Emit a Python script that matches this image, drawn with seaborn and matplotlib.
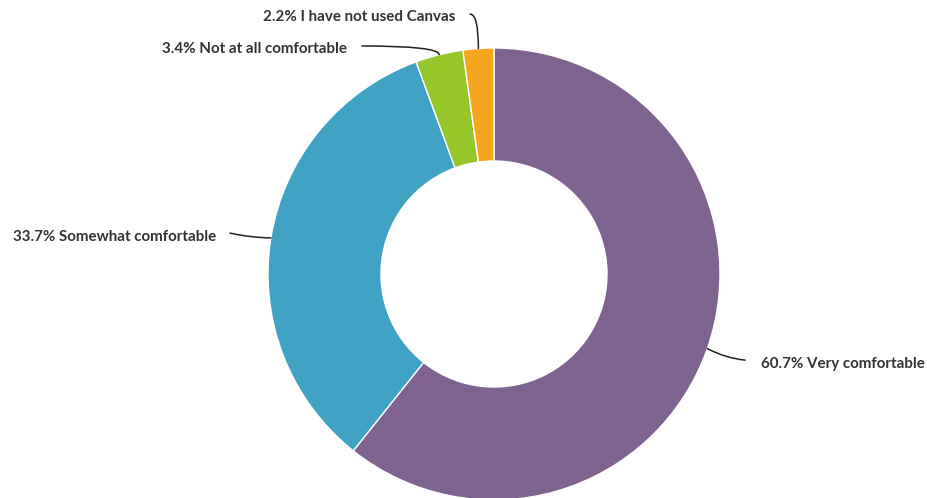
import numpy as np
import seaborn as sns
import matplotlib.pyplot as plt

# survey answers, clockwise from 12 o'clock
answers = ["Very comfortable", "Somewhat comfortable", "Not at all comfortable", "I have not used Canvas"]
shares = [60.7, 33.7, 3.4, 2.2]
colors = ["#7e6390", "#40a3c4", "#96c62a", "#f5a51e"]

sns.set_style("white")
plt.rcParams["font.family"] = ["Lato", "DejaVu Sans"]

fig = plt.figure(figsize=(9.27, 4.98), dpi=100)
ax = fig.add_axes([0, 0, 1, 1])
wedges, _ = ax.pie(shares, colors=sns.color_palette(colors), startangle=90, counterclock=False,
                   radius=1, wedgeprops=dict(width=0.5, edgecolor="white", linewidth=1))

# label layout: where the text sits, where the leader starts, and how it bends
text_xy = [(1.181, -0.400), (-1.230, 0.164), (-0.650, 0.996), (-0.173, 1.135)]
line_xy = [(1.111, -0.381), (-1.168, 0.181), (-0.584, 1.009), (-0.106, 1.150)]
ha = ["left", "right", "right", "right"]
conn = ["arc3,rad=-0.1", "arc3,rad=0.05", "angle3,angleA=0,angleB=90", "angle3,angleA=0,angleB=90"]

for w, s, a, txy, lxy, h, c in zip(wedges, shares, answers, text_xy, line_xy, ha, conn):
    mid = np.deg2rad((w.theta1 + w.theta2) / 2)
    tip = (np.cos(mid), np.sin(mid))
    ax.annotate("", xy=tip, xytext=lxy,
                arrowprops=dict(arrowstyle="-", color="#222222", lw=1.1, connectionstyle=c,
                                shrinkA=0, shrinkB=0))
    ax.text(txy[0], txy[1], f"{s}% {a}", ha=h, va="center", fontsize=10.9,
            fontweight="bold", color="#333333")

ax.set_xlim(-494 / 226, (927 - 494) / 226)
ax.set_ylim(-(498 - 274) / 226, 274 / 226)
ax.set_aspect("auto")
ax.axis("off")
fig.savefig("out.png", dpi=100)
